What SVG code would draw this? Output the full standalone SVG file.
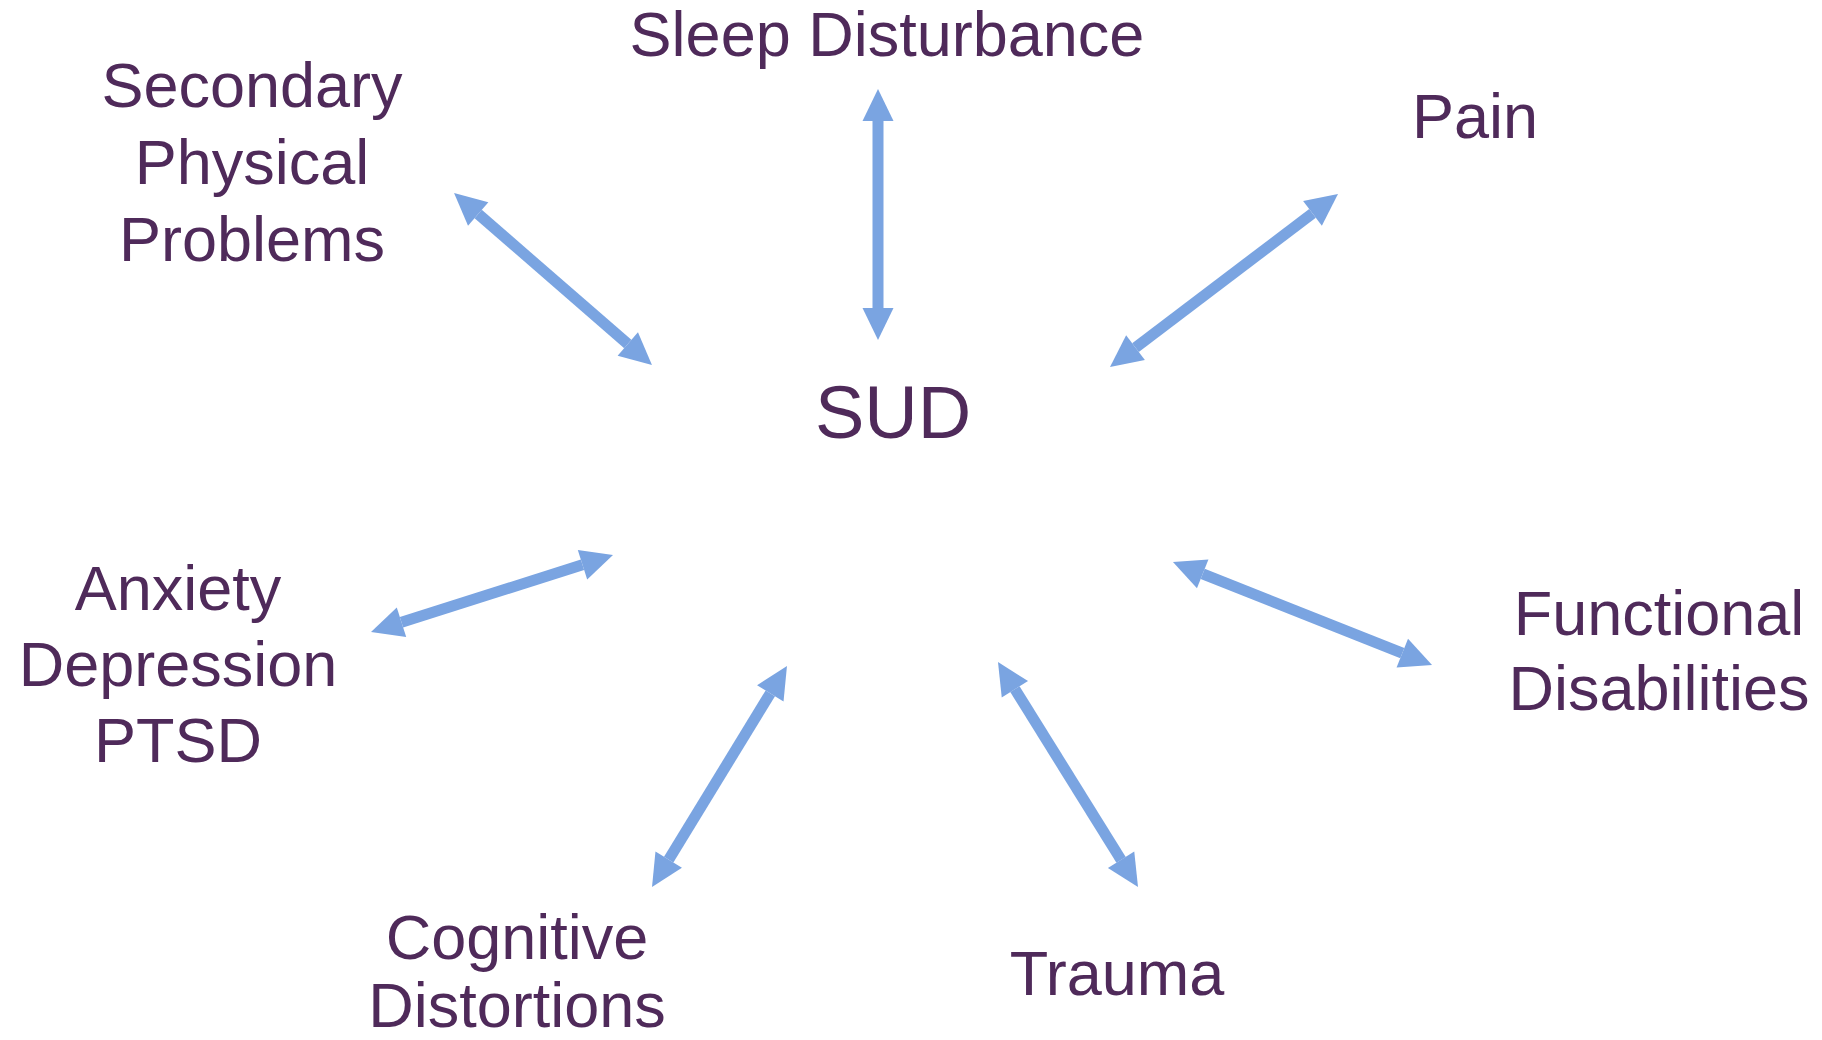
<svg xmlns="http://www.w3.org/2000/svg" width="1822" height="1040" viewBox="0 0 1822 1040">
<style>
.lbl{font-family:"Liberation Sans",Arial,sans-serif;font-size:63px;fill:#4F2A5A;text-anchor:middle}
.big{font-size:74px}
.arr{stroke:#7AA4E1;stroke-width:11;fill:none;marker-start:url(#head);marker-end:url(#head)}
</style>
<defs>
<marker id="head" markerUnits="userSpaceOnUse" markerWidth="32" markerHeight="32" refX="0" refY="15.5" orient="auto-start-reverse" overflow="visible">
<path d="M0,0 L32,15.5 L0,31 Z" fill="#7AA4E1"/>
</marker>
</defs>
<rect width="1822" height="1040" fill="#FFFFFF"/>
<g id="connectors">
<line class="arr" x1="478.2" y1="214" x2="627.8" y2="344"/>
<line class="arr" x1="878" y1="121" x2="878" y2="308"/>
<line class="arr" x1="1312.5" y1="213.3" x2="1135.5" y2="347.7"/>
<line class="arr" x1="582.5" y1="564.7" x2="401.5" y2="622.3"/>
<line class="arr" x1="770.3" y1="693.3" x2="668.7" y2="859.7"/>
<line class="arr" x1="1014.9" y1="689.2" x2="1121.1" y2="859.8"/>
<line class="arr" x1="1202.7" y1="573.8" x2="1402.3" y2="653.2"/>
</g>
<g id="sud"><text class="lbl big" x="893" y="438">SUD</text></g>
<g id="sleep"><text class="lbl" x="887" y="56">Sleep Disturbance</text></g>
<g id="secondary"><text class="lbl" x="252" y="107">Secondary</text><text class="lbl" x="252" y="184">Physical</text><text class="lbl" x="252" y="261">Problems</text></g>
<g id="pain"><text class="lbl" x="1475" y="138">Pain</text></g>
<g id="anxiety"><text class="lbl" x="178" y="610">Anxiety</text><text class="lbl" x="178" y="686">Depression</text><text class="lbl" x="178" y="762">PTSD</text></g>
<g id="cognitive"><text class="lbl" x="517" y="959">Cognitive</text><text class="lbl" x="517" y="1027">Distortions</text></g>
<g id="trauma"><text class="lbl" x="1117" y="995">Trauma</text></g>
<g id="functional"><text class="lbl" x="1659" y="635">Functional</text><text class="lbl" x="1659" y="710">Disabilities</text></g>
</svg>
